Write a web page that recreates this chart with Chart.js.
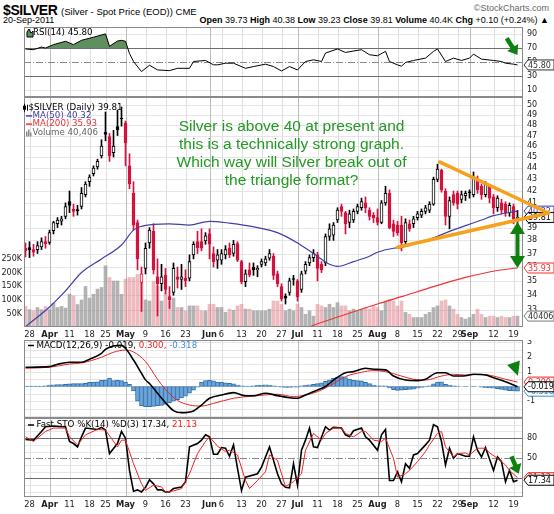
<!DOCTYPE html>
<html>
<head>
<meta charset="utf-8">
<title>$SILVER</title>
<script src="https://cdn.jsdelivr.net/npm/chart.js@4.4.1/dist/chart.umd.min.js"></script>
<style>
  body { margin: 0; background: #fff; }
  #wrap { position: relative; width: 554px; height: 514px; overflow: hidden; font-family: "Liberation Sans", Arial, sans-serif; color: #000; }
  #wrap canvas { position: absolute; left: 0; }
  .hd { position: absolute; white-space: nowrap; line-height: 1; }
</style>
</head>
<body>
<div id="wrap">
  <div class="hd" style="left:3px;top:3px;font-size:14px;font-weight:bold;letter-spacing:-0.4px">$SILVER <span style="font-size:9.5px;font-weight:normal;letter-spacing:0">(Silver - Spot Price (EOD)) CME</span></div>
  <div class="hd" style="right:5px;top:4px;font-size:9px;color:#666">©StockCharts.com</div>
  <div class="hd" style="left:3px;top:16px;font-size:9px">20-Sep-2011</div>
  <div class="hd" style="right:5px;top:16px;font-size:9px"><b>Open</b> 39.73 <b>High</b> 40.38 <b>Low</b> 39.23 <b>Close</b> 39.81 <b>Volume</b> 40.4K <b>Chg</b> +0.10 (+0.24%) &#9650;</div>
  <canvas id="rsi" width="554" height="70" style="top:27px"></canvas>
  <canvas id="main" width="554" height="244" style="top:97px"></canvas>
  <canvas id="macd" width="554" height="78" style="top:340px"></canvas>
  <canvas id="sto" width="554" height="96" style="top:418px"></canvas>
</div>
<script>
// Trading days, 25 Mar 2011 .. 20 Sep 2011
const days = [
  '3/25','3/28','3/29','3/30','3/31',
  '4/1','4/4','4/5','4/6','4/7','4/8','4/11','4/12','4/13','4/14','4/15','4/18','4/19','4/20','4/21','4/25','4/26','4/27','4/28','4/29',
  '5/2','5/3','5/4','5/5','5/6','5/9','5/10','5/11','5/12','5/13','5/16','5/17','5/18','5/19','5/20','5/23','5/24','5/25','5/26','5/27','5/31',
  '6/1','6/2','6/3','6/6','6/7','6/8','6/9','6/10','6/13','6/14','6/15','6/16','6/17','6/20','6/21','6/22','6/23','6/24','6/27','6/28','6/29','6/30',
  '7/1','7/5','7/6','7/7','7/8','7/11','7/12','7/13','7/14','7/15','7/18','7/19','7/20','7/21','7/22','7/25','7/26','7/27','7/28','7/29',
  '8/1','8/2','8/3','8/4','8/5','8/8','8/9','8/10','8/11','8/12','8/15','8/16','8/17','8/18','8/19','8/22','8/23','8/24','8/25','8/26','8/29','8/30','8/31',
  '9/1','9/2','9/6','9/7','9/8','9/9','9/12','9/13','9/14','9/15','9/16','9/19','9/20'
];
const tickDays = ['3/28','4/4','4/11','4/18','4/25','5/2','5/9','5/16','5/23','6/1','6/6','6/13','6/20','6/27','7/1','7/11','7/18','7/25','8/1','8/8','8/15','8/22','8/29','9/1','9/12','9/19'];
const tickText = ['28','Apr','11','18','25','May','9','16','23','Jun','6','13','20','27','Jul','11','18','25','Aug','8','15','22','29','Sep','12','19'];
const monthNames = ['Apr','May','Jun','Jul','Aug','Sep'];

const opens = [
  37.4,37.45,37.3,37.3,37.5,37.9,37.85,38.75,39.3,39.5,
  39.9,41.1,40.5,40.45,40.7,41.7,42.8,43.5,44.1,45.1,
  47.3,46.9,45.4,47.85,48.65,48.2,44.2,41.8,39.4,34.9,
  35.9,37.8,38.7,35.3,34.8,35.4,33.9,34.2,35.3,35.1,
  35.2,35.2,36.9,37.9,37.9,37.95,38.5,37.0,36.5,36.5,
  36.9,37.4,37.0,37.75,36.4,34.95,35.8,36.0,35.8,36.2,
  36.3,36.65,36.8,35.5,34.6,33.95,34.2,35.15,35.0,34.4,
  35.7,36.3,36.7,36.9,36.2,36.3,38.3,38.4,39.6,40.7,
  40.2,39.4,39.6,40.3,40.6,41.0,40.4,40.0,39.8,39.4,
  41.0,41.8,39.3,39.2,39.2,37.9,39.3,39.3,39.8,40.0,
  40.3,40.4,40.9,43.0,43.8,42.0,39.9,41.7,41.8,41.3,
  41.6,41.9,41.7,43.05,42.4,41.7,42.4,41.5,40.6,41.0,
  40.9,40.2,40.7,39.73
];
const highs = [
  37.8,37.9,37.7,37.9,38.2,38.3,38.8,39.5,39.8,39.9,
  41.0,42.0,40.9,40.8,42.3,42.8,43.4,44.2,44.8,46.6,
  49.3,47.2,47.5,49.5,49.8,48.4,45.3,42.8,39.6,36.0,
  37.8,39.0,39.3,36.6,36.2,35.9,34.6,36.3,36.0,36.2,
  35.8,36.9,37.9,38.7,38.9,38.6,38.9,37.5,37.3,37.3,
  37.6,37.8,38.0,37.9,36.5,35.8,36.3,36.3,36.1,36.6,
  36.8,37.3,37.0,35.7,34.8,34.1,35.2,35.4,35.1,35.7,
  36.4,36.9,37.3,37.1,36.4,38.5,39.3,39.4,40.6,40.9,
  40.3,40.4,40.5,40.9,41.4,41.5,40.6,40.2,40.5,41.2,
  42.4,42.1,39.6,39.5,39.9,39.7,39.6,39.9,40.3,40.5,
  40.8,41.1,43.2,44.35,43.9,42.2,41.5,42.0,42.0,42.0,
  42.0,42.1,43.65,43.3,42.6,42.8,42.5,41.7,41.6,41.3,
  41.1,41.0,40.9,40.38
];
const lows = [
  36.75,36.7,36.8,37.0,37.3,37.4,37.7,38.5,39.0,39.2,
  39.7,40.2,39.9,40.0,40.5,41.5,42.4,43.3,43.9,44.9,
  46.5,44.6,45.0,47.0,47.9,44.2,42.2,38.8,35.8,32.9,
  35.5,37.4,35.5,32.6,34.3,34.1,33.1,34.0,34.5,34.4,
  34.6,35.0,36.6,37.0,37.2,37.7,36.6,36.0,35.9,36.2,
  36.6,36.7,36.8,36.4,34.8,34.6,35.3,35.4,35.3,36.0,
  36.1,36.5,35.1,34.6,33.6,33.4,34.0,34.7,33.6,34.2,
  35.5,36.1,36.4,35.0,35.6,36.1,38.0,38.0,39.4,39.9,
  38.5,39.0,39.4,40.1,40.4,40.2,39.6,39.4,39.2,39.3,
  40.8,38.9,38.3,38.4,37.2,37.6,38.7,39.0,39.6,39.8,
  40.1,40.2,40.8,42.8,41.9,39.2,38.9,40.8,40.5,41.0,
  41.2,41.4,41.5,41.8,41.3,41.5,41.0,40.1,40.3,40.1,
  39.9,39.9,39.3,39.23
];
const closes = [
  37.2,37.3,37.1,37.6,37.9,37.75,38.6,39.4,39.6,39.7,
  40.7,40.8,40.3,40.35,41.8,42.6,43.2,44.0,44.6,46.0,
  47.1,45.1,46.0,47.55,48.6,46.3,42.6,39.2,36.6,35.5,
  37.4,38.8,35.8,34.8,35.3,34.4,33.7,35.9,35.1,35.3,
  35.0,36.4,37.7,37.45,37.4,38.35,37.7,36.4,36.9,37.0,
  37.3,36.9,37.7,36.5,34.95,35.5,35.45,35.8,35.9,36.4,
  36.6,37.0,35.4,34.8,33.75,33.8,35.0,35.1,33.9,35.5,
  36.2,36.7,37.0,35.9,35.8,38.3,38.9,39.2,40.4,40.3,
  39.3,40.1,40.3,40.7,41.1,40.6,39.9,39.8,39.4,41.0,
  41.8,39.0,38.7,38.6,37.8,39.4,38.9,39.7,40.1,40.3,
  40.6,40.9,43.0,43.9,42.1,39.9,41.2,41.0,40.9,41.7,
  41.8,41.85,43.2,42.1,41.7,42.6,41.4,40.6,41.4,40.4,
  40.2,40.8,39.71,39.81
];
// volume in thousands
const volumesK = [
  76,64,60,72,64,76,64,88,72,76,
  70,121,115,83,100,150,107,121,140,146,
  226,183,170,170,121,177,183,183,195,164,
  100,96,168,150,96,124,96,107,72,72,
  60,78,78,78,60,60,84,84,72,72,
  54,66,62,78,84,66,66,60,60,60,
  60,66,96,96,84,60,66,60,84,72,
  47,60,40,84,78,72,84,72,90,78,
  78,60,66,60,66,72,66,78,72,60,
  96,102,96,78,96,54,47,35,35,35,
  47,54,72,78,96,100,78,66,47,35,
  29,35,47,66,47,35,40,40,35,40,
  35,35,40,40.406
];

// indicator readings: [day index, value]
const ma50 = [[0,31.9],[6,33.2],[10,34.3],[14,35.6],[19,36.6],[24,37.65],[27,38.8],[29,39.1],[32,39.25],[36,39.3],[41,39.2],[46,39.5],[51,39.35],[58,39.0],[63,38.6],[68,37.8],[72,37.0],[76,36.2],[78,36.05],[82,36.4],[86,36.8],[88,37.1],[92,37.4],[94,37.45],[98,37.8],[102,38.2],[106,38.7],[110,39.15],[114,39.6],[117,39.95],[123,40.32]];
const ma200 = [[68,31.6],[71,31.9],[80,32.7],[88,33.4],[94,33.9],[102,34.6],[110,35.25],[118,35.75],[123,35.93]];
const rsi = [[0,68.6],[2,67.6],[4,71.4],[5,70],[7,74.8],[10,79.6],[12,74.8],[14,81],[17,85.4],[20,90.2],[21,72.4],[23,80],[24,81],[25,79.6],[26,62],[27,50.7],[29,36.3],[31,45.4],[33,38.7],[36,37.7],[38,41],[41,41],[42,50.7],[45,52.2],[47,46],[48,45.9],[50,48.3],[52,48.3],[55,41],[57,43.5],[60,46.9],[62,43.5],[64,37.2],[66,43.5],[68,38.7],[70,50.7],[72,53.1],[74,50.7],[75,62.8],[78,68.6],[80,63.7],[84,67.6],[86,60.4],[88,58.9],[90,65.2],[91,50.7],[93,45.9],[94,44],[95,49.3],[97,52.2],[100,55.5],[102,65.2],[103,68.6],[105,50.7],[107,55.5],[109,52.2],[111,55.5],[112,61.3],[114,54.1],[117,52.2],[119,50.7],[120,48.3],[122,46.9],[123,45.8]];
const macdLine = [[0,1.31],[6,1.35],[8,1.51],[11,1.65],[14,1.65],[16,1.85],[19,2.26],[20,2.53],[22,2.75],[24,2.8],[25,2.6],[27,1.8],[29,0.9],[30,0.45],[31,0.2],[33,-0.46],[35,-1.1],[37,-1.64],[39,-1.78],[42,-1.66],[44,-1.26],[46,-0.8],[49,-0.58],[52,-0.42],[55,-0.63],[57,-0.63],[60,-0.46],[63,-0.62],[66,-0.76],[68,-0.8],[70,-0.58],[73,-0.24],[75,0],[77,0.44],[80,0.94],[82,1.01],[85,1.24],[87,1.17],[90,1.13],[92,0.71],[95,0.44],[98,0.4],[100,0.49],[103,0.94],[105,0.94],[107,0.71],[110,0.73],[112,0.83],[115,0.78],[117,0.6],[120,0.33],[123,-0.019]];
const macdSignal = [[0,1.24],[6,1.31],[11,1.53],[14,1.6],[19,1.99],[22,2.33],[25,2.48],[27,2.35],[30,1.7],[33,0.5],[35,-0.2],[38,-0.95],[41,-1.26],[44,-1.33],[47,-1.15],[52,-0.8],[57,-0.65],[63,-0.53],[67,-0.69],[70,-0.58],[73,-0.35],[77,0.2],[80,0.67],[84,0.97],[87,1.08],[90,1.01],[94,0.71],[97,0.49],[100,0.44],[104,0.71],[107,0.83],[110,0.78],[114,0.83],[117,0.71],[120,0.49],[123,0.3]];
const macdHist = [
  0.03,0.03,0.02,0.02,0.03,0.05,
  0.10,0.12,0.13,0.13,0.15,
  0.18,0.20,0.20,0.20,0.22,
  0.28,0.30,0.32,0.42,
  0.45,0.58,0.40,0.42,0.40,0.30,0.15,
  -0.30,-1.00,-1.30,-1.38,-1.38,-1.35,-1.30,-1.28,-1.22,-1.10,-1.00,-0.90,-0.78,-0.65,-0.45,-0.25,-0.05,
  0.30,0.40,0.42,0.38,0.30,0.28,0.25,0.22,0.18,0.10,0.05,0.02,0.03,0.05,0.08,0.10,0.12,0.10,0.05,-0.02,
  -0.05,-0.06,-0.06,-0.05,-0.05,0.05,0.10,0.12,0.15,0.20,0.25,0.35,0.45,0.55,0.62,0.67,0.60,0.50,0.42,0.40,0.38,0.28,0.20,0.10,0.05,0.04,0.05,
  -0.10,-0.22,-0.26,-0.25,-0.22,-0.20,-0.18,-0.12,-0.06,-0.03,
  0.05,0.18,0.30,0.32,0.15,0.10,0.05,0.02,0.00,-0.02,0.00,0.02,0.00,
  -0.05,-0.08,-0.10,-0.12,-0.15,-0.20,-0.25,-0.28,-0.30,-0.318
];
const stoK = [[0,78],[2,77],[4,90],[5,97],[7,98],[9,97],[10,97],[11,75],[12,72],[13,67],[14,82],[15,95],[18,93],[19,96],[20,92],[21,57],[23,72],[24,90],[25,80],[26,32],[27,1],[28,3],[29,0],[30,7],[31,18],[32,12],[33,3],[34,3],[35,0],[36,0],[37,5],[39,7.4],[40,15],[41,67],[43,72],[44,77],[45,85],[46,82],[47,56],[48,56],[49,66],[50,65],[51,53],[52,70],[53,35],[54,2],[55,22],[58,27],[59,37],[60,52],[61,67],[63,27],[64,12],[65,7],[66,6],[67,42],[68,10],[69,62],[70,77],[71,95],[72,67],[73,66],[75,97],[76,92],[77,96],[79,95],[80,85],[81,82],[82,91],[84,95],[85,82],[86,77],[88,62],[89,85],[90,93],[91,17],[92,17],[93,30],[94,15],[95,42],[96,35],[97,55],[98,57],[100,70],[101,77],[102,100],[103,97],[104,75],[105,40],[106,65],[107,50],[108,57],[110,53],[111,53],[112,82],[113,62],[114,52],[115,66],[117,32],[118,52],[119,45],[120,15],[121,32],[122,15],[123,17.34]];
const stoD = [[0,82],[2,75],[5,90],[7,95],[10,95],[11,82],[13,70],[15,85],[18,93],[20,92],[23,67],[24,77],[25,77],[27,42],[29,12],[30,2.4],[32,10],[34,7.4],[35,0],[37,1.4],[39,5],[41,27],[43,57],[45,75],[46,82],[48,68],[50,60],[51,62],[53,55],[55,17],[56,5],[58,17],[60,30],[61,55],[63,47],[64,27],[65,8],[67,15],[69,27],[70,62],[72,87],[74,77],[75,87],[77,95],[79,95],[80,87],[82,82],[84,90],[85,90],[87,77],[89,75],[90,80],[92,50],[93,22],[95,27],[96,32],[98,45],[100,60],[101,70],[103,87],[104,90],[105,67],[107,52],[108,57],[110,58],[111,55],[113,65],[115,65],[116,58],[118,50],[120,40],[121,32],[123,21.13]];

// hand-drawn annotations, in [day index, value]
const triUpper = [[103.5,44.55],[130.75,40.17]];
const triLower = [[93,37.47],[130.75,40.17]];
const noteLines = ['Silver is above 40 at present and', 'this is a technically strong graph.', 'Which way will Silver break out of', 'the triangle format?'];
const noteAt = [66.5, 47.8];

const RED = '#d3123f', BLACK = '#000', BLUE_MA = '#4040a8', RED_MA = '#ee3333';
const tickIdx = tickDays.map(d => days.indexOf(d));
const last = arr => arr[arr.length - 1];
const toXY = arr => arr.map(p => ({x: p[0], y: p[1]}));

const candleColor = closes.map((c, i) => (i === 0 ? c < opens[i] : c < closes[i - 1]) ? RED : BLACK);
const candleFill = closes.map((c, i) => c > opens[i] ? '#fff' : candleColor[i]);
const volColor = closes.map((c, i) => (i === 0 || c < closes[i - 1]) ? 'rgba(222,120,130,0.5)' : 'rgba(140,140,140,0.66)');

function hline(ctx, a, y, color) {
  const py = Math.round(y) + 0.5;
  ctx.strokeStyle = color;
  ctx.beginPath(); ctx.moveTo(a.left, py); ctx.lineTo(a.right, py); ctx.stroke();
}

function drawBadge(ctx, left, y, text, color, textColor) {
  const x0 = left + 1, h = 10, w = 30;
  ctx.beginPath();
  ctx.moveTo(x0, y);
  ctx.lineTo(x0 + 4, y - h / 2);
  ctx.lineTo(x0 + w, y - h / 2);
  ctx.lineTo(x0 + w, y + h / 2);
  ctx.lineTo(x0 + 4, y + h / 2);
  ctx.closePath();
  ctx.fillStyle = '#fff'; ctx.fill();
  ctx.strokeStyle = color; ctx.lineWidth = 1; ctx.stroke();
  ctx.fillStyle = textColor || color;
  ctx.font = '8px "DejaVu Sans"';
  ctx.textBaseline = 'middle'; ctx.textAlign = 'left';
  ctx.fillText(text, x0 + 4, y + 0.5);
}

function blockArrow(ctx, x1, y1, x2, y2, sw, hw, hl) {
  const len = Math.hypot(x2 - x1, y2 - y1), ux = (x2 - x1) / len, uy = (y2 - y1) / len, nx = -uy, ny = ux;
  const bx = x2 - ux * hl, by = y2 - uy * hl;
  ctx.beginPath();
  ctx.moveTo(x1 + nx * sw / 2, y1 + ny * sw / 2);
  ctx.lineTo(bx + nx * sw / 2, by + ny * sw / 2);
  ctx.lineTo(bx + nx * hw / 2, by + ny * hw / 2);
  ctx.lineTo(x2, y2);
  ctx.lineTo(bx - nx * hw / 2, by - ny * hw / 2);
  ctx.lineTo(bx - nx * sw / 2, by - ny * sw / 2);
  ctx.lineTo(x1 - nx * sw / 2, y1 - ny * sw / 2);
  ctx.closePath();
  ctx.fill();
}

function drawIcon(ctx, icon, x, y, color) {
  ctx.save();
  ctx.fillStyle = color; ctx.strokeStyle = color; ctx.lineWidth = 1;
  if (icon === 'line') {
    ctx.lineWidth = 1.5;
    ctx.beginPath(); ctx.moveTo(x + 2, y); ctx.lineTo(x + 8, y); ctx.stroke();
  } else if (icon === 'candle') {
    ctx.beginPath(); ctx.moveTo(x + 1.5, y - 4); ctx.lineTo(x + 1.5, y + 4); ctx.stroke();
    ctx.fillRect(x, y - 2, 3, 4);
    ctx.beginPath(); ctx.moveTo(x + 4.5, y - 3); ctx.lineTo(x + 4.5, y + 3); ctx.stroke();
  } else if (icon === 'vol') {
    ctx.fillRect(x + 2, y - 1, 1.5, 5); ctx.fillRect(x + 4, y - 3, 1.5, 7); ctx.fillRect(x + 6, y, 1.5, 4);
  } else if (icon === 'area') {
    ctx.fillStyle = '#5f8f5f';
    ctx.beginPath(); ctx.moveTo(x + 2, y + 4); ctx.lineTo(x + 2, y - 1); ctx.lineTo(x + 4, y - 4); ctx.lineTo(x + 6, y); ctx.lineTo(x + 8, y - 2); ctx.lineTo(x + 8, y + 4); ctx.closePath(); ctx.fill();
    ctx.strokeStyle = '#000'; ctx.stroke();
  }
  ctx.restore();
}

// per-panel decoration
const panels = {
  rsi: {
    axis: 'y', grid: [10, 90], refs: [{v: 70}, {v: 30}, {v: 50, dash: true}],
    legend: [{dy: 6, icon: 'area', iconX: 1, tx: 9, segs: [['RSI(14) 45.80', '#000']]}],
    badges: [{axis: 'y', v: last(rsi)[1], text: '45.80', color: '#333'}],
    extra(chart) {
      const xs = chart.scales.x, ys = chart.scales.y, ctx = chart.ctx;
      ctx.fillStyle = '#0f7f0f';
      blockArrow(ctx, xs.getPixelForValue(120.3), ys.getPixelForValue(84), xs.getPixelForValue(123), ys.getPixelForValue(60), 4.5, 13, 9);
    }
  },
  main: {
    axis: 'y', grid: [33,34,35,36,37,38,39,40,41,42,43,44,45,46,47,48,49,50], refs: [],
    legend: [
      {dy: 10.7, icon: 'candle', iconX: -1, tx: 4.5, segs: [['$SILVER (Daily) 39.81', '#000']]},
      {dy: 18.9, icon: 'line', iconX: 0, tx: 8.5, iconColor: BLUE_MA, segs: [['MA(50) 40.32', BLUE_MA]]},
      {dy: 27.1, icon: 'line', iconX: 0, tx: 8.5, iconColor: RED_MA, segs: [['MA(200) 35.93', RED_MA]]},
      {dy: 35.5, icon: 'vol', iconX: 0, tx: 8.5, iconColor: '#888', segs: [['Volume 40,406', '#666']]}
    ],
    badges: [
      {axis: 'yVol', v: last(volumesK), text: '40406', color: '#777', textColor: '#333'},
      {axis: 'y', v: last(ma200)[1], text: '35.93', color: RED_MA},
      {axis: 'y', v: last(ma50)[1], text: '40.32', color: '#3838c0'},
      {axis: 'y', v: last(closes), text: '39.81', color: '#000'}
    ],
    extra(chart) {
      const xs = chart.scales.x, ys = chart.scales.y, ctx = chart.ctx;
      // note text
      ctx.fillStyle = '#229922';
      ctx.font = '15.5px "Liberation Sans", Arial, sans-serif';
      ctx.textAlign = 'center'; ctx.textBaseline = 'middle';
      const cx = xs.getPixelForValue(noteAt[0]), cy = ys.getPixelForValue(noteAt[1]);
      noteLines.forEach((t, k) => ctx.fillText(t, cx, cy + k * 17.8));
      // triangle
      ctx.strokeStyle = '#f6a11d'; ctx.lineWidth = 3.5; ctx.lineCap = 'round';
      [triUpper, triLower].forEach(seg => {
        ctx.beginPath();
        ctx.moveTo(xs.getPixelForValue(seg[0][0]), ys.getPixelForValue(seg[0][1]));
        ctx.lineTo(xs.getPixelForValue(seg[1][0]), ys.getPixelForValue(seg[1][1]));
        ctx.stroke();
      });
      // double arrow between price and MA(200)
      ctx.fillStyle = '#0f7f0f';
      const ax = xs.getPixelForValue(123), top = ys.getPixelForValue(39.45), bot = ys.getPixelForValue(last(ma200)[1]);
      const mid = (top + bot) / 2;
      blockArrow(ctx, ax, mid, ax, top, 4, 15, 12);
      blockArrow(ctx, ax, mid, ax, bot, 4, 15, 12);
    }
  },
  macd: {
    axis: 'y', grid: [-2, -1.5, -1, -0.5, 0, 0.5, 1, 1.5, 2, 2.5, 3], refs: [],
    legend: [{dy: 5.5, icon: 'line', iconX: 2, tx: 12.5, iconColor: '#000', segs: [['MACD(12,26,9) -0.019,', '#000'], [' 0.300,', '#ee2222'], [' -0.318', '#3d8fd6']]}],
    badges: [
      {axis: 'y', v: last(macdSignal)[1], text: '0.300', color: '#ee2222'},
      {axis: 'y', v: last(macdHist), text: '-0.318', color: '#3d8fd6'},
      {axis: 'y', v: last(macdLine)[1], text: '-0.019', color: '#000'}
    ],
    extra(chart) {
      const xs = chart.scales.x, ys = chart.scales.y, ctx = chart.ctx;
      const tri = [[120.4, 1.46], [123.6, 1.76], [123.1, 0.73]];
      ctx.fillStyle = '#0f7f0f';
      ctx.beginPath();
      tri.forEach((p, k) => { const px = xs.getPixelForValue(p[0]), py = ys.getPixelForValue(p[1]); k ? ctx.lineTo(px, py) : ctx.moveTo(px, py); });
      ctx.closePath(); ctx.fill();
    }
  },
  sto: {
    axis: 'y', grid: [0, 10, 30, 40, 60, 70, 90, 100], refs: [{v: 80}, {v: 20}, {v: 50, dash: true}],
    legend: [{dy: 7, icon: 'line', iconX: 2, tx: 12.5, iconColor: '#000', segs: [['Fast STO %K(14) %D(3) 17.34,', '#000'], [' 21.13', '#ee2222']]}],
    badges: [
      {axis: 'y', v: last(stoD)[1], text: '21.13', color: '#ee2222'},
      {axis: 'y', v: last(stoK)[1], text: '17.34', color: '#000'}
    ],
    extra(chart) {
      const xs = chart.scales.x, ys = chart.scales.y, ctx = chart.ctx;
      ctx.fillStyle = '#0f7f0f';
      blockArrow(ctx, xs.getPixelForValue(121.5), ys.getPixelForValue(53), xs.getPixelForValue(123.3), ys.getPixelForValue(27), 4.5, 13, 9);
    }
  }
};

const panelDecor = {
  id: 'panelDecor',
  beforeDatasetsDraw(chart) {
    const p = panels[chart.canvas.id];
    const {ctx, chartArea: a} = chart;
    const xs = chart.scales.x, ys = chart.scales[p.axis];
    ctx.save();
    ctx.lineWidth = 1;
    p.grid.forEach(v => hline(ctx, a, ys.getPixelForValue(v), '#e6e6e6'));
    tickIdx.forEach((t, k) => {
      const px = Math.round(xs.getPixelForValue(t)) + 0.5;
      ctx.strokeStyle = monthNames.includes(tickText[k]) ? '#bcbcbc' : '#e0e0e0';
      ctx.beginPath(); ctx.moveTo(px, a.top); ctx.lineTo(px, a.bottom); ctx.stroke();
    });
    p.refs.forEach(r => {
      ctx.setLineDash(r.dash ? [7, 2, 1, 2] : []);
      hline(ctx, a, ys.getPixelForValue(r.v), r.dash ? '#888' : '#6e6e6e');
    });
    ctx.restore();
  },
  afterDraw(chart) {
    const p = panels[chart.canvas.id];
    const {ctx, chartArea: a} = chart;
    ctx.save();
    ctx.strokeStyle = '#8a8a8a'; ctx.lineWidth = 1;
    ctx.strokeRect(Math.round(a.left) + 0.5, Math.round(a.top) + 0.5, Math.round(a.right - a.left) - 1, Math.round(a.bottom - a.top) - 1);
    p.legend.forEach(row => {
      const y = a.top + row.dy;
      drawIcon(ctx, row.icon, a.left + row.iconX, y, row.iconColor || '#000');
      ctx.font = '8.7px "DejaVu Sans"'; ctx.textBaseline = 'middle'; ctx.textAlign = 'left';
      let x = a.left + row.tx;
      row.segs.forEach(([t, c]) => { ctx.fillStyle = c; ctx.fillText(t, x, y); x += ctx.measureText(t).width; });
    });
    p.badges.forEach(b => drawBadge(ctx, a.right, chart.scales[b.axis].getPixelForValue(b.v), b.text, b.color, b.textColor));
    p.extra(chart);
    ctx.restore();
  }
};

// day index range; the 1/8-day shift puts candle centres on half pixels so bodies stay crisp
function xAxis(show, h) {
  return {
    type: 'linear', min: -0.375, max: 124.375, offset: false, bounds: 'data', display: show,
    grid: {display: false, drawTicks: false}, border: {display: false},
    afterBuildTicks: s => { s.ticks = tickIdx.map(v => ({value: v})); },
    afterFit: s => { s.height = show ? h : 0; s.paddingLeft = 0; s.paddingRight = 0; },
    ticks: {
      autoSkip: false, maxRotation: 0, padding: 3, color: '#222',
      font: c => ({family: 'DejaVu Sans', size: 8.3, weight: monthNames.includes(tickText[c.index]) ? 'bold' : 'normal'}),
      callback: (v, k) => tickText[k]
    }
  };
}

function rightAxis(type, min, max, ticks, fmt) {
  return {
    type, position: 'right', min, max, bounds: 'data',
    grid: {display: false, drawTicks: false}, border: {display: false},
    afterBuildTicks: s => { s.ticks = ticks.map(v => ({value: v})); },
    afterFit: s => { s.width = 31; s.paddingTop = 0; s.paddingBottom = 0; },
    ticks: {padding: 4, color: '#222', font: {family: 'DejaVu Sans', size: 8}, callback: fmt || (v => String(v))}
  };
}

function baseOptions(scales, padLeft) {
  return {
    responsive: false, animation: false, events: [],
    layout: {padding: {left: padLeft, right: 0, top: 0, bottom: 0}},
    plugins: {legend: {display: false}, tooltip: {enabled: false}},
    scales
  };
}

const lineDs = (pts, color, width, extra) => Object.assign({
  type: 'line', data: toXY(pts), borderColor: color, borderWidth: width,
  pointRadius: 0, tension: 0, fill: false
}, extra || {});

// RSI
new Chart('rsi', {
  type: 'line',
  data: {datasets: [lineDs(rsi, '#000', 1, {fill: {target: {value: 70}, above: '#5f8f5f', below: 'rgba(0,0,0,0)'}})]},
  options: baseOptions({x: xAxis(false, 0), y: rightAxis('linear', 0, 100, [10, 30, 50, 70, 90])}, 24),
  plugins: [panelDecor]
});

// price + volume
new Chart('main', {
  type: 'bar',
  data: {
    datasets: [
      {label: 'Volume', yAxisID: 'yVol', data: volumesK.map((v, i) => ({x: i, y: v})), backgroundColor: volColor, barThickness: 3, grouped: false, order: 10},
      {label: 'Range', yAxisID: 'y', data: lows.map((l, i) => ({x: i, y: [l, highs[i]]})), backgroundColor: candleColor, barThickness: 1, grouped: false, order: 5},
      {label: 'Body', yAxisID: 'y', data: opens.map((o, i) => ({x: i, y: [o, closes[i]]})), backgroundColor: candleFill, borderColor: candleColor, borderWidth: 1, borderSkipped: false, minBarLength: 1, barThickness: 3, grouped: false, order: 4},
      lineDs(ma200, RED_MA, 1.2, {yAxisID: 'y', cubicInterpolationMode: 'monotone', order: 2}),
      lineDs(ma50, BLUE_MA, 1.2, {yAxisID: 'y', cubicInterpolationMode: 'monotone', order: 1})
    ]
  },
  options: baseOptions({
    x: xAxis(true, 14),
    y: rightAxis('logarithmic', 31.88, 50.82, [33,34,35,36,37,38,39,40,41,42,43,44,45,46,47,48,49,50]),
    yVol: {
      type: 'linear', position: 'left', min: 0, max: 850, bounds: 'data',
      grid: {display: false, drawTicks: false}, border: {display: false},
      afterBuildTicks: s => { s.ticks = [50, 100, 150, 200, 250].map(v => ({value: v})); },
      afterFit: s => { s.width = 24; s.paddingTop = 0; s.paddingBottom = 0; },
      ticks: {padding: 2, color: '#222', font: {family: 'DejaVu Sans', size: 8}, callback: v => v + 'K'}
    }
  }, 0),
  plugins: [panelDecor]
});

// MACD
new Chart('macd', {
  type: 'bar',
  data: {
    datasets: [
      {label: 'Hist', data: macdHist.map((v, i) => ({x: i, y: v})), backgroundColor: '#68a6dc', borderColor: '#2f6ea8', borderWidth: 1, borderSkipped: false, barThickness: 4, grouped: false, order: 5},
      lineDs(macdSignal, '#ee2222', 1, {cubicInterpolationMode: 'monotone', order: 2}),
      lineDs(macdLine, '#000', 1.6, {cubicInterpolationMode: 'monotone', order: 1})
    ]
  },
  options: baseOptions({x: xAxis(false, 0), y: rightAxis('linear', -2.143, 3.163, [-1, 0, 1, 2, 3])}, 24),
  plugins: [panelDecor]
});

// Fast stochastics
new Chart('sto', {
  type: 'line',
  data: {
    datasets: [
      lineDs(stoD, '#ee2222', 1),
      lineDs(stoK, '#000', 1.6)
    ]
  },
  options: baseOptions({x: xAxis(true, 17), y: rightAxis('linear', -7.6, 110, [20, 50, 80])}, 24),
  plugins: [panelDecor]
});
</script>
</body>
</html>
